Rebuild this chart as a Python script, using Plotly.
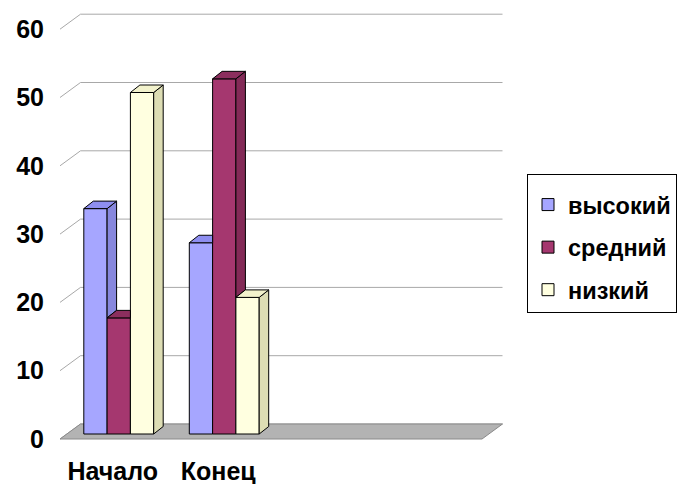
import plotly.graph_objects as go

# ---- data ----
categories = ["Начало", "Конец"]
series_names = ["высокий", "средний", "низкий"]
vysokiy = [33, 28]
sredniy = [17, 52]
nizkiy = [50, 20]
y_ticks = [0, 10, 20, 30, 40, 50, 60]
y_tick_text = ["0", "10", "20", "30", "40", "50", "60"]
n_slots = 4  # category slots on the floor (two are empty)

front_colors = ["#A6A6FF", "#A5376F", "#FFFFE0"]
top_colors = ["#8E8EF0", "#8C2E5E", "#F2F2CC"]
side_colors = ["#8787DD", "#832A57", "#DDDDB4"]

# ---- geometry (pixel based oblique projection) ----
W_FIG, H_FIG = 677, 484
L, R, T, B = 55, 505, 8, 445          # plot area in pixels
X0_PX, Y0_PX = 66, 434                # pixel of x=-0.5 / y=0 in bar front plane
UX, UY = 105.5, 6.83                  # px per category / px per value unit
DX, DY = 9.5 / UX, 7.5 / UY           # bar depth
FX, FY = -6 / UX, -5 / UY             # floor front offset
BX, BY = 14.5 / UX, 10 / UY           # back wall offset
W = 23.3 / UX                         # bar width

xrange = [(L - X0_PX) / UX - 0.5, (R - X0_PX) / UX - 0.5]
yrange = [(Y0_PX - B) / UY, (Y0_PX - T) / UY]

font_family = "Liberation Sans, Arial, sans-serif"
FS = 25
LFS = 23.5

fig = go.Figure()
shapes = []

# back wall gridlines + diagonal ticks
for v in y_ticks:
    shapes.append(dict(
        type="path", xref="x", yref="y", layer="below",
        path=f"M{-0.5 + FX},{v + FY} L{-0.5 + BX},{v + BY} L{n_slots - 0.5 + BX},{v + BY}",
        line=dict(color="#A8A8A8", width=1)))

# floor
shapes.append(dict(
    type="path", xref="x", yref="y", layer="below",
    path=(f"M{-0.5 + FX},{FY} L{n_slots - 0.5 + FX},{FY} "
          f"L{n_slots - 0.5 + BX},{BY} L{-0.5 + BX},{BY} Z"),
    fillcolor="#B3B3B3", line=dict(color="#8A8A8A", width=1)))

series = [vysokiy, sredniy, nizkiy]

# front faces
for k, (name, vals) in enumerate(zip(series_names, series)):
    fig.add_trace(go.Bar(
        x=list(range(len(categories))), y=vals, width=W,
        offset=-1.5 * W + k * W,
        marker=dict(color=front_colors[k], line=dict(color="black", width=1)),
        name=name, legendgroup=name, hoverinfo="skip"))

# top and side faces (painter order left to right, hidden parts removed)
def poly(xs, ys, color):
    fig.add_trace(go.Scatter(
        x=xs + [xs[0]], y=ys + [ys[0]], mode="lines", fill="toself",
        fillcolor=color, line=dict(color="black", width=1),
        showlegend=False, hoverinfo="skip"))

for c in range(len(categories)):
    for k in range(len(series)):
        v = series[k][c]
        xl = c - 1.5 * W + k * W
        xr = xl + W
        nv = series[k + 1][c] if k + 1 < len(series) else None
        # side
        if nv is None:
            poly([xr, xr, xr + DX, xr + DX], [0, v, v + DY, DY], side_colors[k])
        elif nv < v:
            poly([xr, xr, xr + DX, xr + DX], [nv, v, v + DY, nv + DY], side_colors[k])
        # top
        if nv is not None and nv > v:
            poly([xl, xr, xr, xl + DX], [v, v, v + DY, v + DY], top_colors[k])
        else:
            poly([xl, xr, xr + DX, xl + DX], [v, v, v + DY, v + DY], top_colors[k])

fig.update_layout(
    width=W_FIG, height=H_FIG,
    margin=dict(l=L, r=W_FIG - R, t=T, b=H_FIG - B, pad=0, autoexpand=False),
    paper_bgcolor="white", plot_bgcolor="rgba(0,0,0,0)",
    barmode="overlay", shapes=shapes,
    font=dict(family=font_family, size=FS, color="black", weight="bold"),
    xaxis=dict(range=xrange, showgrid=False, zeroline=False, showline=False,
               automargin=False, tickmode="array",
               tickvals=[c + FX for c in range(len(categories))],
               ticktext=categories, ticks="outside", ticklen=4,
               tickcolor="rgba(0,0,0,0)",
               tickfont=dict(size=FS, family=font_family, weight="bold")),
    yaxis=dict(range=yrange, showgrid=False, zeroline=False, showline=False,
               automargin=False, tickmode="array",
               tickvals=[v + FY for v in y_ticks],
               ticktext=y_tick_text, ticks="outside", ticklen=5,
               tickcolor="rgba(0,0,0,0)",
               tickfont=dict(size=FS, family=font_family, weight="bold")),
    legend=dict(x=(527 - L) / (R - L), y=(B - 174) / (B - T),
                xanchor="left", yanchor="top",
                bordercolor="black", borderwidth=1, bgcolor="white",
                tracegroupgap=9, traceorder="grouped",
                title=dict(text=" ", font=dict(size=6)),
                font=dict(size=LFS, family=font_family, weight="bold")),
    showlegend=True,
)

fig.write_html("out.html", config={"displayModeBar": False},
               post_script="document.body.style.margin='0';")
